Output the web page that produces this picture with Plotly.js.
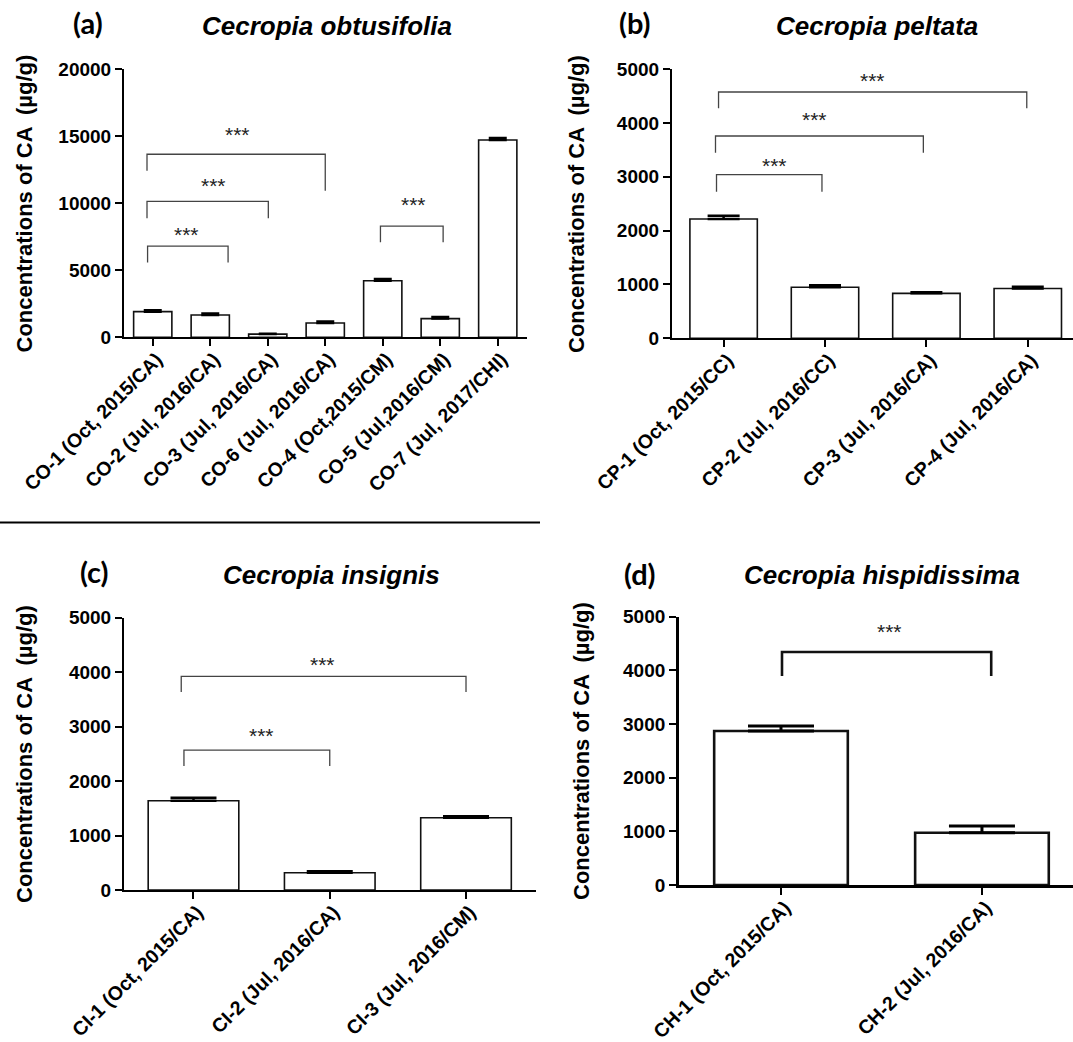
<!DOCTYPE html>
<html>
<head>
<meta charset="utf-8">
<script src="https://cdn.plot.ly/plotly-3.0.1.min.js"></script>
<style>html,body{margin:0;padding:0;background:#fff;}</style>
</head>
<body>
<div id="chart" style="width:1073px;height:1042px;"></div>
<script>
// ---------- DATA ----------
// (a) Cecropia obtusifolia
const catsA = ["CO-1 (Oct, 2015/CA)", "CO-2 (Jul, 2016/CA)", "CO-3 (Jul, 2016/CA)", "CO-6 (Jul, 2016/CA)", "CO-4 (Oct,2015/CM)", "CO-5 (Jul,2016/CM)", "CO-7 (Jul, 2017/CHI)"];
const valsA = [1910, 1660, 240, 1070, 4210, 1395, 14700];
const errA  = [100, 120, 30, 110, 130, 120, 150];
// (b) Cecropia peltata
const catsB = ["CP-1 (Oct, 2015/CC)", "CP-2 (Jul, 2016/CC)", "CP-3 (Jul, 2016/CA)", "CP-4 (Jul, 2016/CA)"];
const valsB = [2215, 947, 835, 925];
const errB  = [60, 40, 22, 30];
// (c) Cecropia insignis
const catsC = ["CI-1 (Oct, 2015/CA)", "CI-2 (Jul, 2016/CA)", "CI-3 (Jul, 2016/CM)"];
const valsC = [1640, 318, 1328];
const errC  = [55, 25, 25];
// (d) Cecropia hispidissima
const catsD = ["CH-1 (Oct, 2015/CA)", "CH-2 (Jul, 2016/CA)"];
const valsD = [2870, 975];
const errD  = [94, 125];

// significance brackets (category index / value units)
const brA_from = [-0.09, -0.1, -0.1, 3.96];
const brA_to   = [1.31, 2.01, 3.0, 5.05];
const brA_top  = [6800, 10130, 13640, 8290];
const brA_legL = [5570, 8870, 12410, 7080];
const brA_legR = [5570, 8870, 10920, 7080];
const stA_x = [0.58, 1.06, 1.48, 4.54];
const stA_y = [8000, 11650, 15520, 10300];

const brB_from = [-0.07, -0.08, -0.05];
const brB_to   = [0.97, 1.97, 2.99];
const brB_top  = [3038, 3756, 4573];
const brB_legL = [2722, 3447, 4270];
const brB_legR = [2722, 3447, 4270];
const stB_x = [0.50, 0.90, 1.47];
const stB_y = [3310, 4146, 4870];

const brC_from = [-0.07, -0.09];
const brC_to   = [1.0, 2.0];
const brC_top  = [2570, 3923];
const brC_legL = [2277, 3635];
const brC_legR = [2277, 3635];
const stC_x = [0.50, 0.95];
const stC_y = [2925, 4241];

const brD_from = [0.005];
const brD_to   = [1.046];
const brD_top  = [4341];
const brD_legL = [3894];
const brD_legR = [3894];
const stD_x = [0.54];
const stD_y = [4826];

const sigText = "***";
const yTitle = "Concentrations of CA  (\u00b5g/g)";
const panelLabels = ["(a)", "(b)", "(c)", "(d)"];
const panelTitles = ["Cecropia obtusifolia", "Cecropia peltata", "Cecropia insignis", "Cecropia hispidissima"];

// ---------- LAYOUT HELPERS ----------
const W = 1073, H = 1042;
const px = v => v / W;
const py = v => 1 - v / H;

function barTrace(cats, vals, errs, xa, ya, lw, capHalf, errThick) {
  return {
    type: 'bar', x: cats, y: vals, xaxis: xa, yaxis: ya, width: 0.665,
    marker: {color: '#ffffff', line: {color: '#111111', width: lw}},
    error_y: {type: 'data', symmetric: false, array: errs, arrayminus: errs.map(() => 0),
              visible: true, color: '#000000', thickness: errThick, width: capHalf},
    hoverinfo: 'x+y', showlegend: false
  };
}
function xAxis(domain, range, anchor, lw) {
  return {domain: domain, range: range, anchor: anchor, type: 'category',
    showline: true, linecolor: '#000', linewidth: lw, mirror: false,
    ticks: 'outside', ticklen: 7, tickwidth: 2, tickcolor: '#000', tickangle: -45,
    ticklabelshift: 4, ticklabelstandoff: -6,
    tickfont: {family: 'Arial', size: 19.5, color: '#000', weight: 'bold'},
    showgrid: false, zeroline: false, fixedrange: true, automargin: false};
}
function yAxis(domain, range, dtick, anchor, lw) {
  return {domain: domain, range: range, anchor: anchor, dtick: dtick, tick0: 0, tickformat: 'd',
    showline: true, linecolor: '#000', linewidth: lw,
    ticks: 'outside', ticklen: 7, tickwidth: 2, tickcolor: '#000',
    tickfont: {family: 'Arial', size: 19, color: '#000', weight: 'bold'},
    showgrid: false, zeroline: false, fixedrange: true, automargin: false};
}
function brackets(xref, yref, from, to, top, legL, legR, color, lw) {
  return from.map((f, i) => ({type: 'path', xref: xref, yref: yref,
    path: 'M ' + f + ',' + legL[i] + ' L ' + f + ',' + top[i] + ' L ' + to[i] + ',' + top[i] + ' L ' + to[i] + ',' + legR[i],
    line: {color: color, width: lw}}));
}
function stars(xref, yref, xs, ys) {
  return xs.map((x, i) => ({xref: xref, yref: yref, x: x, y: ys[i], text: sigText, showarrow: false,
    xanchor: 'center', yanchor: 'middle', yshift: -5,
    font: {family: 'Arial', size: 21, color: '#222'}}));
}

const data = [
  barTrace(catsA, valsA, errA, 'x', 'y', 1.6, 9, 2.5),
  barTrace(catsB, valsB, errB, 'x2', 'y2', 1.6, 16, 2.5),
  barTrace(catsC, valsC, errC, 'x3', 'y3', 1.6, 23, 2.5),
  barTrace(catsD, valsD, errD, 'x4', 'y4', 2.6, 33, 3)
];

const shapes = [].concat(
  brackets('x', 'y', brA_from, brA_to, brA_top, brA_legL, brA_legR, '#444', 1.3),
  brackets('x2', 'y2', brB_from, brB_to, brB_top, brB_legL, brB_legR, '#444', 1.3),
  brackets('x3', 'y3', brC_from, brC_to, brC_top, brC_legL, brC_legR, '#444', 1.3),
  brackets('x4', 'y4', brD_from, brD_to, brD_top, brD_legL, brD_legR, '#111', 2.6),
  [{type: 'line', xref: 'paper', yref: 'paper', x0: 0, x1: px(540), y0: py(522.5), y1: py(522.5),
    line: {color: '#000', width: 2}}]
);

const titlePos = [[327, 26], [877, 26], [331, 575], [882, 574.5]];
const labelPos = [[88, 22], [635, 22], [94, 571], [640, 573]];
const yTitlePos = [[23.5, 204], [576, 204], [24, 754], [581, 751]];

let annotations = [].concat(
  stars('x', 'y', stA_x, stA_y),
  stars('x2', 'y2', stB_x, stB_y),
  stars('x3', 'y3', stC_x, stC_y),
  stars('x4', 'y4', stD_x, stD_y)
);
panelTitles.forEach((t, i) => annotations.push({xref: 'paper', yref: 'paper', x: px(titlePos[i][0]), y: py(titlePos[i][1]),
  text: t, showarrow: false, xanchor: 'center', yanchor: 'middle',
  font: {family: 'Arial', size: 26, color: '#000', weight: 'bold', style: 'italic'}}));
panelLabels.forEach((t, i) => annotations.push({xref: 'paper', yref: 'paper', x: px(labelPos[i][0]), y: py(labelPos[i][1]),
  text: t, showarrow: false, xanchor: 'center', yanchor: 'middle',
  font: {family: 'Lato', size: 29, color: '#000', weight: 'bold'}}));
yTitlePos.forEach((p, i) => annotations.push({xref: 'paper', yref: 'paper', x: px(p[0]), y: py(p[1]),
  text: yTitle, showarrow: false, textangle: -90, xanchor: 'center', yanchor: 'middle',
  font: {family: 'Arial', size: 22, color: '#000', weight: 'bold'}}));

const layout = {
  width: W, height: H, margin: {l: 0, r: 0, t: 0, b: 0, pad: 0},
  paper_bgcolor: '#fff', plot_bgcolor: '#fff', showlegend: false,
  font: {family: 'Arial', color: '#000'},
  bargap: 0.335,
  xaxis:  xAxis([px(124), px(526.5)], [-0.5, 6.5], 'y', 2),
  yaxis:  yAxis([py(337.3), py(68.9)], [0, 20000], 5000, 'x', 2),
  xaxis2: xAxis([px(671.9), 1], [-0.51, 3.446], 'y2', 2),
  yaxis2: yAxis([py(338.3), py(69)], [0, 5000], 1000, 'x2', 2),
  xaxis3: xAxis([px(124), px(535.5)], [-0.51, 2.51], 'y3', 2),
  yaxis3: yAxis([py(890), py(617.7)], [0, 5000], 1000, 'x3', 2),
  xaxis4: xAxis([px(678.7), 1], [-0.509, 1.453], 'y4', 2.6),
  yaxis4: yAxis([py(885), py(616.7)], [0, 5000], 1000, 'x4', 2.6),
  shapes: shapes,
  annotations: annotations
};

Plotly.newPlot('chart', data, layout, {displayModeBar: false, staticPlot: true});
</script>
</body>
</html>
